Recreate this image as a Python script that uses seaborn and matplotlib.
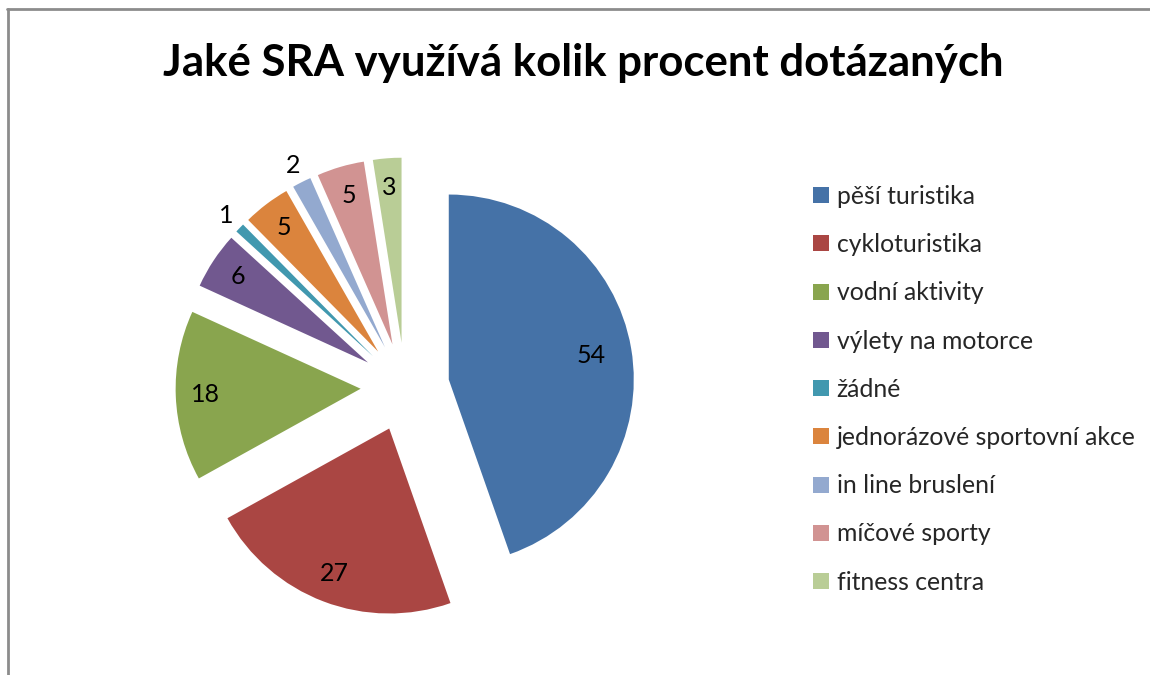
import matplotlib
matplotlib.use("Agg")
import matplotlib.pyplot as plt
import seaborn as sns
import numpy as np
from matplotlib.lines import Line2D

categories = ["pěší turistika", "cykloturistika", "vodní aktivity", "výlety na motorce",
              "žádné", "jednorázové sportovní akce", "in line bruslení", "míčové sporty",
              "fitness centra"]
values = [54, 27, 18, 6, 1, 5, 2, 5, 3]
colors = ["#4572A7", "#AA4643", "#89A54E", "#71588F", "#4198AF",
          "#DB843D", "#93A9CF", "#D19392", "#B9CD96"]

sns.set_theme(style="white")
plt.rcParams['font.family'] = ['Lato', 'DejaVu Sans']

fig = plt.figure(figsize=(11.5, 6.75), dpi=100)
ax = fig.add_axes([0, 0, 1, 1])

wedges, _ = ax.pie(values, colors=colors, startangle=90, counterclock=False,
                   explode=[0.24] * len(values), radius=1,
                   wedgeprops=dict(linewidth=0))

for w, v in zip(wedges, values):
    mid = np.deg2rad((w.theta1 + w.theta2) / 2)
    r = 1.1 if v <= 2 else (0.78 if v > 50 else 0.84)
    cx, cy = w.center
    ax.text(cx + r * np.cos(mid), cy + r * np.sin(mid), str(v),
            ha='center', va='center', fontsize=18, color='black')

# pixel-exact layout: 1 unit = 185 px, pie centre at (405, 387)
ax.set_xlim(-405 / 185, (1150 - 405) / 185)
ax.set_ylim(-(675 - 387) / 185, 387 / 185)
ax.set_aspect('equal')
ax.axis('off')

fig.text(583 / 1150, 1 - 63 / 675, "Jaké SRA využívá kolik procent dotázaných",
         ha='center', va='center', fontsize=31.5, fontweight='bold', color='black')

handles = [Line2D([], [], marker='s', linestyle='', markersize=11,
                  markerfacecolor=c, markeredgewidth=0) for c in colors]
fig.legend(handles, categories, loc='upper left', bbox_to_anchor=(802 / 1150, 1 - 175 / 675),
           frameon=False, fontsize=17.8, handlelength=0.75, handletextpad=0.25,
           labelspacing=1.02, borderaxespad=0)

# chart frame (top and left edges visible)
fig.add_artist(Line2D([7 / 1150, 1], [1 - 9 / 675, 1 - 9 / 675], color='#8c8c8c', lw=2))
fig.add_artist(Line2D([8 / 1150, 8 / 1150], [0, 1 - 9 / 675], color='#8c8c8c', lw=2))

fig.savefig("out.png", dpi=100)
